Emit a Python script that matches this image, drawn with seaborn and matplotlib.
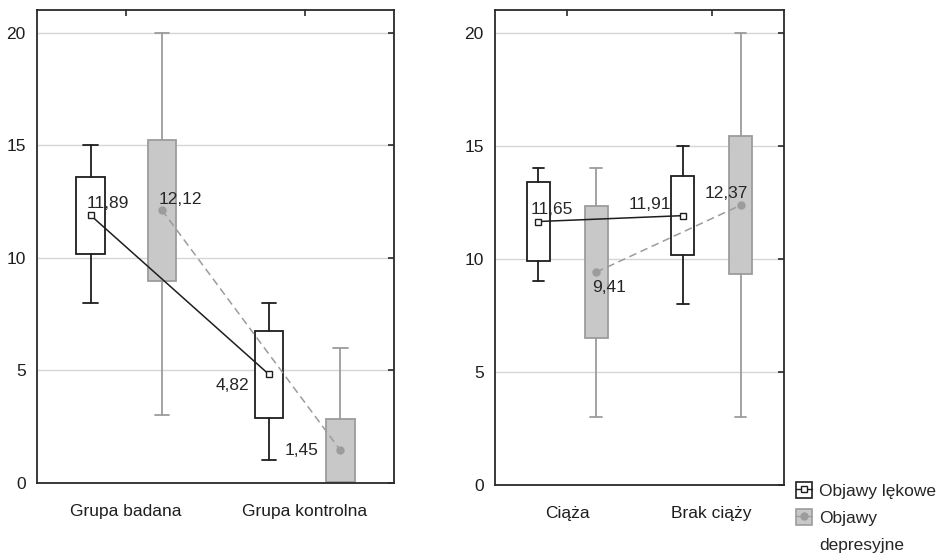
import numpy as np
import pandas as pd
import matplotlib.pyplot as plt
import seaborn as sns
from matplotlib.patches import Patch
from matplotlib.lines import Line2D

sns.set_theme(style="white")
plt.rcParams["font.family"] = ["Liberation Sans", "DejaVu Sans"]

# data (mean, box low/high, whisker low/high)
groups_left = ["Grupa badana", "Grupa kontrolna"]
groups_right = ["Ciąża", "Brak ciąży"]

lek_left_mean = [11.89, 4.82]
lek_left_box = [(10.15, 13.60), (2.90, 6.73)]
lek_left_whis = [(8, 15), (1, 8)]
dep_left_mean = [12.12, 1.45]
dep_left_box = [(8.97, 15.22), (0.05, 2.84)]
dep_left_whis = [(3, 20), (0, 6)]

lek_right_mean = [11.65, 11.91]
lek_right_box = [(9.91, 13.38), (10.16, 13.65)]
lek_right_whis = [(9, 14), (8, 15)]
dep_right_mean = [9.41, 12.37]
dep_right_box = [(6.49, 12.32), (9.32, 15.41)]
dep_right_whis = [(3, 14), (3, 20)]

legend_labels = ["Objawy lękowe", "Objawy", "depresyjne"]

BLACK = "#1e1e1e"
GRAY_FILL = "#c8c8c8"
GRAY_LINE = "#9c9c9c"


def draw_series(ax, offset, means, boxes, whiskers, face, edge, marker, ms, ls):
    pos = np.arange(len(means)) + offset
    stats = []
    for m, (q1, q3), (wl, wh) in zip(means, boxes, whiskers):
        stats.append({"med": m, "q1": q1, "q3": q3, "whislo": wl, "whishi": wh, "fliers": []})
    ax.bxp(stats, positions=pos, widths=0.16, capwidths=0.08, patch_artist=True,
           showfliers=False, manage_ticks=False,
           boxprops=dict(facecolor=face, edgecolor=edge, linewidth=1.3),
           whiskerprops=dict(color=edge, linewidth=1.3),
           capprops=dict(color=edge, linewidth=1.3),
           medianprops=dict(linewidth=0))
    sns.lineplot(x=pos, y=means, ax=ax, color=edge, marker=marker, markersize=ms,
                 markerfacecolor="white" if marker == "s" else edge,
                 markeredgecolor=edge, markeredgewidth=1.0,
                 linestyle=ls, linewidth=1.1, errorbar=None, sort=False, zorder=4)


def style_axis(ax, groups):
    ax.set_xlim(-0.5, 1.5)
    ax.set_ylim(0, 21)
    ax.set_xticks([0, 1])
    ax.set_xticklabels(groups, fontsize=12.5)
    ax.set_yticks([0, 5, 10, 15, 20])
    ax.set_yticklabels(["0", "5", "10", "15", "20"], fontsize=12.5)
    ax.yaxis.grid(True, color="#d6d6d6", linewidth=1)
    ax.set_axisbelow(True)
    ax.tick_params(direction="in", top=True, right=True, length=4, width=1.2,
                   color="#2a2a2a", labelcolor="#1e1e1e")
    ax.tick_params(axis="x", pad=15)
    ax.tick_params(axis="y", pad=8)
    for s in ax.spines.values():
        s.set_color("#2a2a2a")
        s.set_linewidth(1.3)


fig = plt.figure(figsize=(9.38, 5.58), dpi=100)
ax1 = fig.add_axes([0.0394, 0.1344, 0.3806, 0.8476])
ax2 = fig.add_axes([0.5277, 0.1308, 0.3081, 0.8512])

# left panel
draw_series(ax1, -0.2, lek_left_mean, lek_left_box, lek_left_whis, "white", BLACK, "s", 4, "-")
draw_series(ax1, 0.2, dep_left_mean, dep_left_box, dep_left_whis, GRAY_FILL, GRAY_LINE, "o", 5, (0, (5, 3)))
style_axis(ax1, groups_left)
fs = 12.5
ax1.text(-0.2 - 0.02, lek_left_mean[0] + 0.2, "11,89", ha="left", va="bottom", fontsize=fs)
ax1.text(0.2 - 0.02, dep_left_mean[0] + 0.15, "12,12", ha="left", va="bottom", fontsize=fs)
ax1.text(0.8 - 0.11, lek_left_mean[1] - 0.5, "4,82", ha="right", va="center", fontsize=fs)
ax1.text(1.2 - 0.12, dep_left_mean[1], "1,45", ha="right", va="center", fontsize=fs)

# right panel
draw_series(ax2, -0.2, lek_right_mean, lek_right_box, lek_right_whis, "white", BLACK, "s", 4, "-")
draw_series(ax2, 0.2, dep_right_mean, dep_right_box, dep_right_whis, GRAY_FILL, GRAY_LINE, "o", 5, (0, (5, 3)))
style_axis(ax2, groups_right)
ax2.text(-0.2 - 0.05, lek_right_mean[0] + 0.2, "11,65", ha="left", va="bottom", fontsize=fs)
ax2.text(0.2 - 0.03, dep_right_mean[0] - 0.35, "9,41", ha="left", va="top", fontsize=fs)
ax2.text(0.8 - 0.08, lek_right_mean[1] + 0.15, "11,91", ha="right", va="bottom", fontsize=fs)
ax2.text(1.2 + 0.05, dep_right_mean[1] + 0.2, "12,37", ha="right", va="bottom", fontsize=fs)

# legend
h_lek = (Patch(facecolor="white", edgecolor=BLACK, linewidth=1.2),
         Line2D([], [], color=BLACK, marker="s", markersize=4, markerfacecolor="white", linewidth=1))
h_dep = (Patch(facecolor=GRAY_FILL, edgecolor=GRAY_LINE, linewidth=1.2),
         Line2D([], [], color=GRAY_LINE, marker="o", markersize=5, linewidth=1))
h_blank = Patch(facecolor="none", edgecolor="none")
fig.legend([h_lek, h_dep, h_blank], legend_labels, loc="lower left",
           bbox_to_anchor=(0.836, -0.012), frameon=False, fontsize=12.5,
           handlelength=0.9, handleheight=1.1, handletextpad=0.4, labelspacing=0.55,
           borderpad=0.2)

fig.savefig("out.png", dpi=100)
